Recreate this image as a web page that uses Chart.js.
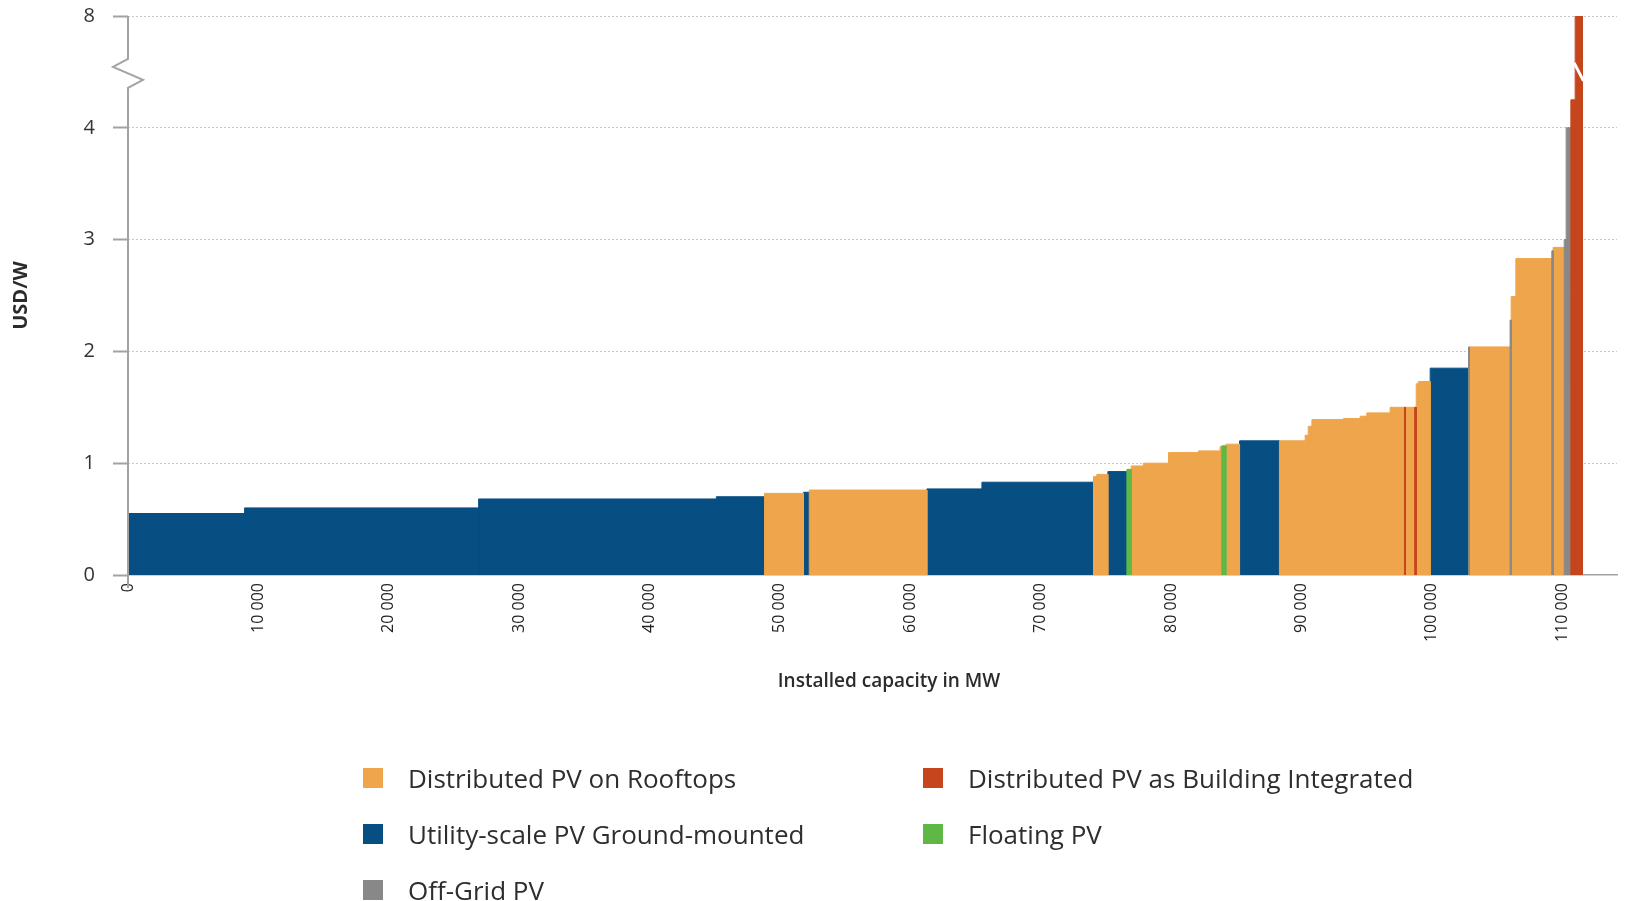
<!DOCTYPE html>
<html>
<head>
<meta charset="utf-8">
<title>PV system cost by installed capacity</title>
<script src="https://cdn.jsdelivr.net/npm/chart.js@4.4.1/dist/chart.umd.min.js"></script>
<style>
  html, body { margin: 0; padding: 0; background: #fff; }
  #wrap { position: relative; width: 1627px; height: 901px; overflow: hidden; }
  #xtitle {
    position: absolute; left: 689px; width: 400px; top: 667px; text-align: center;
    font: 600 19px 'Open Sans', sans-serif; color: #2b2b2b; line-height: 26px;
  }
  #legend {
    position: absolute; left: 363px; top: 767px;
    display: grid; grid-template-columns: 560px auto; grid-auto-rows: 56px;
    font: 26px 'Open Sans', sans-serif; color: #2e2e2e;
  }
  .item { display: flex; align-items: center; height: 22px; line-height: 22px; white-space: nowrap; }
  .item i { display: inline-block; width: 20px; height: 20px; margin-right: 25px; }
</style>
</head>
<body>
<div id="wrap">
  <canvas id="chart" width="1627" height="901"></canvas>
  <div id="xtitle">Installed capacity in MW</div>
  <div id="legend"></div>
</div>
<script>
// technologies, in legend order (left column first, row by row)
var techKeys = ['roof', 'bipv', 'util', 'float', 'off'];
var techNames = ['Distributed PV on Rooftops', 'Distributed PV as Building Integrated',
  'Utility-scale PV Ground-mounted', 'Floating PV', 'Off-Grid PV'];
var techColors = ['#efa54b', '#c5461c', '#074f83', '#5fb846', '#888888'];

// each step of the curve: cumulative capacity (MW) where it ends, cost (USD/W), technology
var capEnd = [8940, 26890, 45120, 48820, 51810, 52250, 61270, 65490, 74050, 74300,
  75150, 76610, 76940, 77880, 79800, 82100, 83760, 83890, 84200, 85250,
  88310, 90280, 90520, 90800, 93220, 94500, 95010, 96800, 97900, 97980,
  98680, 98800, 98950, 99870, 102810, 102860, 106000, 106080, 106440, 109200,
  109300, 110150, 110300, 110660, 110990, 111550];
var costUsdW = [0.55, 0.60, 0.68, 0.70, 0.73, 0.74, 0.76, 0.77, 0.83, 0.88,
  0.90, 0.925, 0.945, 0.975, 1.00, 1.095, 1.11, 1.148, 1.155, 1.17,
  1.20, 1.20, 1.25, 1.33, 1.39, 1.40, 1.42, 1.45, 1.50, 1.50,
  1.50, 1.50, 1.71, 1.73, 1.85, 2.04, 2.04, 2.28, 2.49, 2.83,
  2.90, 2.93, 3.00, 4.00, 4.25, 8.00];
var segTech = ['util', 'util', 'util', 'util', 'roof', 'util', 'roof', 'util', 'util', 'roof',
  'roof', 'util', 'float', 'roof', 'roof', 'roof', 'roof', 'roof', 'float', 'roof',
  'util', 'roof', 'roof', 'roof', 'roof', 'roof', 'roof', 'roof', 'roof', 'bipv',
  'roof', 'bipv', 'roof', 'roof', 'util', 'off', 'roof', 'off', 'roof', 'roof',
  'off', 'roof', 'off', 'off', 'bipv', 'bipv'];

var xTickValues = [0, 10000, 20000, 30000, 40000, 50000, 60000, 70000, 80000, 90000, 100000, 110000];

// y axis has a break: linear up to 4.5, then squeezed so that 8 lands one step above 4
var yTickLabels = ['0', '1', '2', '3', '4', '8'];
var BREAK_AT = 4.5;
var TOP_VALUE = 8;
var Y_MAX = yTickLabels.length - 1;

function toAxis(v) {
  if (v <= BREAK_AT) return v;
  return BREAK_AT + (v - BREAK_AT) * (Y_MAX - BREAK_AT) / (TOP_VALUE - BREAK_AT);
}

function fmtThousands(v) {
  return String(v).replace(/\B(?=(\d{3})+(?!\d))/g, ' ');
}

// one filled outline per step, gaps (null) between steps of the same technology
function buildPoints(key) {
  var pts = [];
  for (var i = 0; i < capEnd.length; i++) {
    if (segTech[i] !== key) continue;
    var start = i === 0 ? 0 : capEnd[i - 1];
    var y = toAxis(costUsdW[i]);
    pts.push({x: start, y: 0}, {x: start, y: y}, {x: capEnd[i], y: y}, {x: capEnd[i], y: 0}, {x: capEnd[i], y: null});
  }
  return pts;
}

var datasets = techKeys.map(function (key, t) {
  return {
    label: techNames[t],
    data: buildPoints(key),
    backgroundColor: techColors[t],
    borderColor: techColors[t],
    borderWidth: 1,
    fill: 'origin',
    spanGaps: false,
    pointRadius: 0,
    order: (key === 'roof' || key === 'util') ? 1 : 0
  };
});

// y axis line drawn by hand so it can carry the break zigzag
var axisBreak = {
  id: 'axisBreak',
  afterDatasetsDraw: function (chart) {
    var ctx = chart.ctx, area = chart.chartArea;
    var x = chart.scales.x, y = chart.scales.y;
    var ax = area.left;
    var yb = y.getPixelForValue(BREAK_AT);
    ctx.save();
    ctx.strokeStyle = '#a3a3a3';
    ctx.lineWidth = 2;
    ctx.beginPath();
    ctx.moveTo(ax, area.top);
    ctx.lineTo(ax, yb - 13);
    ctx.lineTo(ax - 15, yb - 5);
    ctx.lineTo(ax + 15, yb + 8);
    ctx.lineTo(ax, yb + 16);
    ctx.lineTo(ax, area.bottom + 13);
    ctx.stroke();

    // white cut across any step that goes past the break
    ctx.strokeStyle = '#ffffff';
    ctx.lineWidth = 3;
    for (var i = 0; i < capEnd.length; i++) {
      if (costUsdW[i] <= BREAK_AT) continue;
      var x0 = x.getPixelForValue(i === 0 ? 0 : capEnd[i - 1]);
      var x1 = x.getPixelForValue(capEnd[i]);
      ctx.beginPath();
      ctx.moveTo(x0 - 1, yb - 9);
      ctx.lineTo(x1 + 1, yb + 9);
      ctx.stroke();
    }
    ctx.restore();
  }
};

Chart.defaults.font.family = "'Open Sans', sans-serif";
Chart.defaults.color = '#333';

new Chart(document.getElementById('chart'), {
  type: 'line',
  data: {datasets: datasets},
  options: {
    responsive: false,
    animation: false,
    devicePixelRatio: 1,
    layout: {padding: {top: 16, right: 10, bottom: 206, left: 0}},
    plugins: {
      legend: {display: false},
      tooltip: {enabled: false}
    },
    elements: {point: {radius: 0}, line: {tension: 0}},
    scales: {
      x: {
        type: 'linear',
        min: 0,
        max: 114200,
        afterFit: function (s) { s.height = 120; },
        afterBuildTicks: function (s) {
          s.ticks = xTickValues.map(function (v) { return {value: v}; });
        },
        border: {color: '#a3a3a3', width: 1.5},
        grid: {drawOnChartArea: false, drawTicks: false},
        ticks: {
          autoSkip: false,
          minRotation: 90,
          maxRotation: 90,
          padding: 8,
          font: {size: 16},
          color: '#222',
          callback: function (v) { return fmtThousands(v); }
        }
      },
      y: {
        min: 0,
        max: Y_MAX,
        // fixed axis width; tick padding should not push the plot down
        afterFit: function (s) {
          s.width = 128;
          s.paddingTop = 0;
          s.paddingBottom = 0;
        },
        border: {display: false, dash: [2, 2]},
        grid: {
          color: function (c) { return c.tick && c.tick.value > 0 ? '#c6c6c6' : 'rgba(0,0,0,0)'; },
          tickColor: '#a3a3a3',
          tickLength: 15,
          tickWidth: 2
        },
        ticks: {
          stepSize: 1,
          padding: 18,
          font: {size: 20},
          color: '#333',
          callback: function (v) { return yTickLabels[v]; }
        },
        title: {
          display: true,
          text: 'USD/W',
          font: {size: 20, weight: 'bold'},
          color: '#2b2b2b',
          padding: {top: 9.5, bottom: 0}
        }
      }
    }
  },
  plugins: [axisBreak]
});

// legend as html, two columns like the original
var legend = document.getElementById('legend');
techKeys.forEach(function (key, t) {
  var item = document.createElement('div');
  item.className = 'item';
  var sw = document.createElement('i');
  sw.style.background = techColors[t];
  item.appendChild(sw);
  item.appendChild(document.createTextNode(techNames[t]));
  legend.appendChild(item);
});
</script>
</body>
</html>
